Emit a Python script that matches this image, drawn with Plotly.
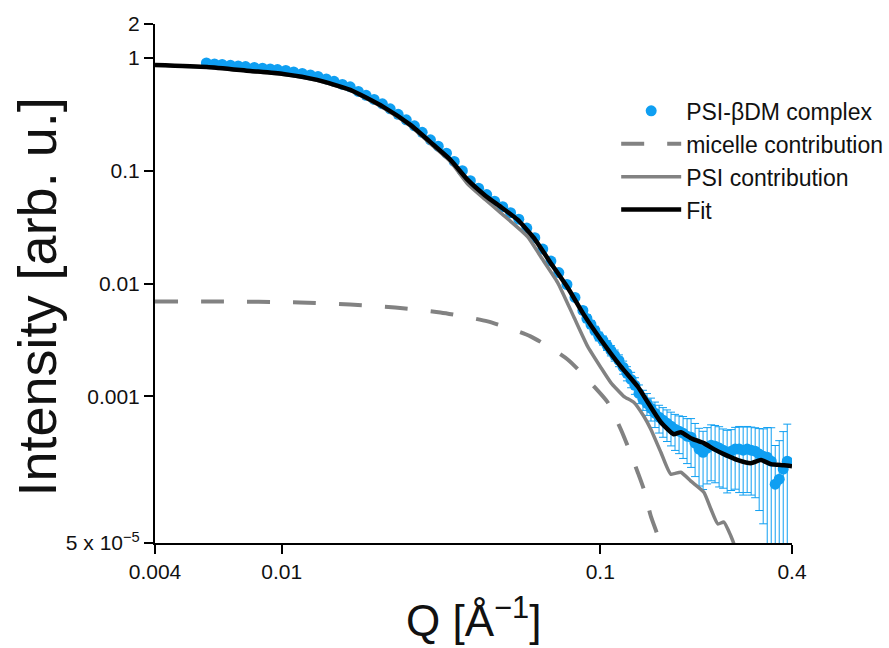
import math
import plotly.graph_objects as go

# ---- data ----
q_data = [0.0058, 0.00615, 0.0065, 0.0069, 0.0073, 0.0077, 0.0082, 0.0087, 0.0092, 0.0097,
          0.0103, 0.0109, 0.0116, 0.0123, 0.013, 0.0138, 0.0146, 0.0155, 0.0164, 0.0174,
          0.0184, 0.0195, 0.0207, 0.0219, 0.0232, 0.0246, 0.0261, 0.0276, 0.0293, 0.031,
          0.0329, 0.0348, 0.0369, 0.0391, 0.0415, 0.044, 0.0466, 0.0494, 0.0523, 0.0555,
          0.0588, 0.0623, 0.066, 0.07, 0.0741, 0.0786, 0.0833, 0.0882,
          0.0908, 0.0935, 0.0962, 0.099, 0.102, 0.105, 0.108, 0.111, 0.1145, 0.118,
          0.1213, 0.125, 0.1285, 0.1323, 0.1362, 0.1402, 0.1443, 0.1485, 0.153, 0.1574,
          0.162, 0.1668, 0.1717, 0.1768, 0.182, 0.1873, 0.1928, 0.1985, 0.2043, 0.2103,
          0.2165, 0.2229, 0.2294, 0.2362, 0.2431, 0.2503, 0.2576, 0.2652, 0.273, 0.281,
          0.2893, 0.2978, 0.3065, 0.3155, 0.3248, 0.3344, 0.3442, 0.3543, 0.3647, 0.3754,
          0.3865]
i_data = [0.903, 0.885, 0.876, 0.862, 0.850, 0.838, 0.824, 0.812, 0.799, 0.789,
          0.775, 0.752, 0.729, 0.707, 0.686, 0.652, 0.620, 0.583, 0.554, 0.505,
          0.466, 0.429, 0.392, 0.354, 0.316, 0.283, 0.250, 0.219, 0.188, 0.165,
          0.143, 0.121, 0.100, 0.0815, 0.070, 0.0614, 0.0537, 0.048, 0.0425, 0.0372,
          0.031, 0.0255, 0.0202, 0.0158, 0.0125, 0.0098, 0.00752, 0.00577,
          0.0049, 0.00434, 0.00384, 0.0034, 0.00313, 0.00283, 0.00255, 0.00231, 0.00208, 0.00181,
          0.0016, 0.00141, 0.00125, 0.00106, 0.00094, 0.000867, 0.000783, 0.000708, 0.000652, 0.000613,
          0.000577, 0.000543, 0.000511, 0.00049, 0.000471, 0.000443, 0.000434, 0.000384, 0.00034, 0.000319,
          0.000347, 0.000368, 0.000361, 0.000347, 0.000333, 0.000319, 0.000326, 0.00034, 0.00034, 0.000333,
          0.00034, 0.000333, 0.000326, 0.000307, 0.000294, 0.000288, 0.000266, 0.000166, 0.000184, 0.000226,
          0.000266]
err_data = [0, 0, 0, 0, 0, 0, 0, 0, 0, 0,
            0, 0, 0, 0, 0, 0, 0, 0, 0, 0,
            0, 0, 0, 0, 0, 0, 0, 0, 0, 0,
            0, 0, 0, 0, 0, 0, 0, 0, 0, 0,
            0, 0, 0, 0, 0.0006, 0.0005, 0.00045, 0.0004,
            0.0004, 0.00036, 0.00033, 0.0003, 0.00029, 0.00028, 0.00027, 0.00026, 0.00025, 0.00024,
            0.00023, 0.00022, 0.00021, 0.0002, 0.00019, 0.00019, 0.00018, 0.00018, 0.00018, 0.00018,
            0.00018, 0.00018, 0.00018, 0.00018, 0.00019, 0.00019, 0.0002, 0.00019, 0.00018, 0.00017,
            0.00018, 0.00019, 0.00019, 0.00019, 0.00018, 0.00018, 0.00018, 0.00019, 0.0002, 0.0002,
            0.0002, 0.0002, 0.0002, 0.00021, 0.00022, 0.00024, 0.00026, 0.0002, 0.00022, 0.00026,
            0.0003]

q_micelle = [0.004, 0.0063, 0.0114, 0.0164, 0.0227, 0.0315, 0.0443, 0.0604, 0.079,
             0.0954, 0.1055, 0.116, 0.122, 0.1311, 0.137, 0.1441, 0.1516, 0.158]
i_micelle = [0.00693, 0.00692, 0.0068, 0.00652, 0.00613, 0.00554, 0.00461, 0.0034, 0.00212,
             0.00123, 0.000885, 0.00051, 0.000361, 0.000212, 0.00015, 8.67e-5, 5.77e-5, 3.5e-5]

q_psi = [0.004, 0.0058, 0.008, 0.0101, 0.0129, 0.0164, 0.0208, 0.0253, 0.0299, 0.0339,
         0.0383, 0.0436, 0.0486, 0.0591, 0.065, 0.0735, 0.0825, 0.0913, 0.1003, 0.1078,
         0.1185, 0.1274, 0.137, 0.1441, 0.155, 0.1665, 0.179, 0.1925, 0.2115, 0.2225,
         0.234, 0.2444, 0.2571, 0.2647, 0.27]
i_psi = [0.86, 0.826, 0.762, 0.716, 0.633, 0.515, 0.362, 0.25, 0.165, 0.12,
         0.0767, 0.0554, 0.0425, 0.0261, 0.01734, 0.0102, 0.0051, 0.00277, 0.00181, 0.00133,
         0.001, 0.000885, 0.000665, 0.00051, 0.000319, 0.000204, 0.000212, 0.000177, 0.000141, 0.0001,
         7.37e-5, 7.67e-5, 5.77e-5, 4.6e-5, 3.5e-5]

q_fit = [0.004, 0.00583, 0.00796, 0.0101, 0.01292, 0.01641, 0.02084, 0.02534, 0.02994, 0.03386,
         0.03829, 0.0436, 0.0486, 0.055, 0.0618, 0.0698, 0.079, 0.0887, 0.1003, 0.116,
         0.1311, 0.141, 0.155, 0.170, 0.179, 0.1925, 0.2115, 0.2274, 0.2444, 0.2705,
         0.2972, 0.3195, 0.3436, 0.3775, 0.4]
i_fit = [0.867, 0.832, 0.767, 0.722, 0.639, 0.521, 0.368, 0.255, 0.170, 0.125,
         0.0833, 0.0601, 0.048, 0.0368, 0.0255, 0.0153, 0.00922, 0.00532, 0.00319, 0.00184,
         0.00122, 0.000885, 0.000589, 0.000461, 0.00048, 0.000425, 0.000384, 0.00034, 0.000307, 0.000272,
         0.000255, 0.000272, 0.00025, 0.000245, 0.00024]

x_tickvals = [0.004, 0.01, 0.1, 0.4]
x_ticktext = ["0.004", "0.01", "0.1", "0.4"]
y_tickvals = [5e-5, 0.001, 0.01, 0.1, 1, 2]
y_ticktext = ["5 x 10<sup>−5</sup>", "0.001", "0.01", "0.1", "1", "2"]

names = ["PSI-βDM complex", "micelle contribution", "PSI contribution", "Fit"]

FONT = "Liberation Sans, Arial, sans-serif"
BLUE = "#0f9ff2"
GREY = "#828282"

fig = go.Figure()
fig.add_trace(go.Scatter(
    x=q_data, y=i_data, mode="markers", name=names[0],
    marker=dict(color=BLUE, size=11, line=dict(width=0)),
    error_y=dict(type="data", array=err_data, visible=True, color=BLUE, thickness=1, width=4),
))
fig.add_trace(go.Scatter(
    x=q_micelle, y=i_micelle, mode="lines", name=names[1],
    line=dict(color=GREY, width=4, dash="23px,23px", shape="spline", smoothing=0.6),
))
fig.add_trace(go.Scatter(
    x=q_psi, y=i_psi, mode="lines", name=names[2],
    line=dict(color=GREY, width=3.5, shape="spline", smoothing=0.5),
))
fig.add_trace(go.Scatter(
    x=q_fit, y=i_fit, mode="lines", name=names[3],
    line=dict(color="black", width=4.5, shape="spline", smoothing=0.5),
))

fig.update_layout(
    width=889, height=648,
    margin=dict(l=155, r=97, t=24, b=105, autoexpand=False),
    paper_bgcolor="white", plot_bgcolor="white",
    font=dict(family=FONT, size=21, color="#111"),
    showlegend=True,
    legend=dict(x=1.151, xanchor="right", y=0.874, yanchor="top",
                bgcolor="rgba(0,0,0,0)", font=dict(size=23, family=FONT, color="#111"),
                tracegroupgap=0, itemwidth=60),
    xaxis=dict(type="log", range=[math.log10(0.004), math.log10(0.4)],
               tickvals=x_tickvals, ticktext=x_ticktext,
               showline=True, linecolor="black", linewidth=2,
               ticks="outside", ticklen=9, tickwidth=2, tickcolor="black",
               showgrid=False, zeroline=False, mirror=False,
               tickfont=dict(size=21, family=FONT, color="#111")),
    yaxis=dict(type="log", range=[math.log10(5e-5), math.log10(2)],
               tickvals=y_tickvals, ticktext=y_ticktext,
               showline=True, linecolor="black", linewidth=2,
               ticks="outside", ticklen=9, tickwidth=2, tickcolor="black",
               showgrid=False, zeroline=False, mirror=False,
               tickfont=dict(size=21, family=FONT, color="#111")),
    annotations=[
        dict(text="Intensity [arb. u.]", xref="paper", yref="paper",
             x=-0.186, y=0.474, xanchor="center", yanchor="middle",
             textangle=-90, showarrow=False,
             font=dict(size=54, family=FONT, color="#111")),
        dict(text="Q [Å<sup>−1</sup>]", xref="paper", yref="paper",
             x=0.5, y=-0.2, xanchor="center", yanchor="bottom",
             showarrow=False, font=dict(size=44, family=FONT, color="#111")),
    ],
)

fig.write_html("out.html",
               config={"displayModeBar": False},
               post_script="document.body.style.margin='0';document.body.style.overflow='hidden';")
